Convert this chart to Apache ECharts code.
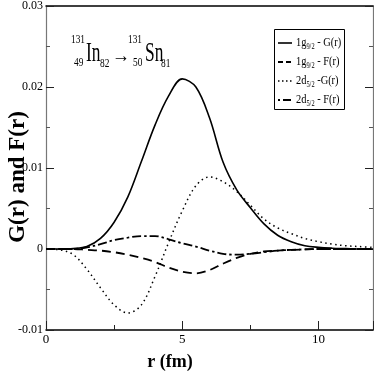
<!DOCTYPE html>
<html><head><meta charset="utf-8">
<script src="https://cdn.jsdelivr.net/npm/echarts@6/dist/echarts.min.js"></script>
<style>html,body{margin:0;padding:0;background:#fff}#c{width:374px;height:374px}</style>
</head><body><div id="c"></div>
<script>
// radial grid (fm)
var rValues = [0, 0.5, 1, 1.5, 2, 2.5, 3, 3.5, 4, 4.5, 5, 5.5, 6, 6.5, 7, 7.5, 8, 8.5, 9, 9.5, 10, 10.5, 11, 11.5, 12];
// 1g9/2 - G(r)
var g1g = [0, 0, 0.00005, 0.0003, 0.0013, 0.0033, 0.0064, 0.0108, 0.0153, 0.0189, 0.021, 0.02, 0.0162, 0.0107, 0.0073, 0.0051, 0.0031, 0.0017, 0.0009, 0.0004, 0.0002, 0.0001, 0.00005, 0, 0];
// 1g9/2 - F(r)
var f1g = [0, 0, 0, -0.0001, -0.0002, -0.0004, -0.0007, -0.0011, -0.0016, -0.0023, -0.0028, -0.003, -0.0026, -0.0018, -0.0011, -0.0006, -0.0003, -0.0002, -0.0001, -0.00005, 0, 0, 0, 0, 0];
// 2d5/2 - G(r)
var g2d = [0, -0.0001, -0.0007, -0.0025, -0.0048, -0.0069, -0.0079, -0.0069, -0.0034, 0.0008, 0.0047, 0.0078, 0.0089, 0.0083, 0.0071, 0.0054, 0.0037, 0.0026, 0.0019, 0.0013, 0.0009, 0.0006, 0.0004, 0.0003, 0.0002];
// 2d5/2 - F(r)
var f2d = [0, 0, 0, 0.0002, 0.0006, 0.0011, 0.0014, 0.0016, 0.0016, 0.0012, 0.0007, 0.0003, -0.0002, -0.0006, -0.0007, -0.0006, -0.0004, -0.0002, -0.0001, -0.00005, 0, 0, 0, 0, 0];
var yTicks = [-0.01, 0, 0.01, 0.02, 0.03];
var xTicks = [0, 5, 10];

function pairs(v){ return rValues.map(function(r,i){ return [r, v[i]]; }); }
var FONT = 'Liberation Serif';
var chart = echarts.init(document.getElementById('c'));

function yLab(v){
  for (var i = 0; i < yTicks.length; i++) {
    if (Math.abs(v - yTicks[i]) < 1e-9) return Math.abs(yTicks[i]) < 1e-12 ? '0' : String(yTicks[i]);
  }
  return '';
}
function legRich(){
  return {
    n: {fontFamily: FONT, fontSize: 13, color: '#000', lineHeight: 16, verticalAlign: 'middle'},
    s: {fontFamily: FONT, fontSize: 8, color: '#000', lineHeight: 16, verticalAlign: 'bottom'}
  };
}
function t(str, x, y, size, sx){
  return {type: 'text', x: x, y: y, scaleX: sx, style: {text: str, font: size + 'px "Liberation Serif"', fill: '#000', align: 'left', verticalAlign: 'top'}};
}

var axisCommonY = {
  type: 'value', min: -0.01, max: 0.03, interval: 0.01,
  splitLine: {show: false},
  minorTick: {show: true, splitNumber: 2, length: 4, lineStyle: {color: '#555'}},
  axisTick: {show: true, inside: true, length: 8, lineStyle: {color: '#222'}},
  axisLine: {show: true, onZero: false, lineStyle: {color: '#777', width: 1.2}}
};

chart.setOption({
  animation: false,
  grid: {left: 46, top: 6, right: 1, bottom: 44, containLabel: false, outerBoundsMode: 'none'},
  xAxis: [{
    type: 'value', min: 0, max: 12, interval: 5, position: 'bottom',
    axisLabel: {fontFamily: FONT, fontSize: 13, color: '#000', margin: 3,
      formatter: function(v){ return xTicks.indexOf(v) >= 0 ? String(v) : ''; }},
    splitLine: {show: false},
    axisTick: {show: true, inside: true, length: 9, lineStyle: {color: '#222'}},
    minorTick: {show: true, splitNumber: 2, length: 5, lineStyle: {color: '#222'}},
    axisLine: {show: true, onZero: false, lineStyle: {color: '#000', width: 1.5}}
  }, {
    type: 'value', min: 0, max: 12, interval: 5, position: 'top',
    axisLabel: {show: false}, axisTick: {show: false}, splitLine: {show: false},
    axisLine: {show: true, onZero: false, lineStyle: {color: '#000', width: 1.5}}
  }],
  yAxis: [Object.assign({}, axisCommonY, {
    position: 'left',
    axisLabel: {fontFamily: FONT, fontSize: 12, color: '#000', margin: 3, formatter: yLab}
  }), Object.assign({}, axisCommonY, {
    position: 'right', axisLabel: {show: false}
  })],
  series: [
    {name: '1g9/2 - G(r)', type: 'line', data: pairs(g1g), smooth: 0.35, showSymbol: false,
     lineStyle: {color: '#000', width: 1.6, type: 'solid'}},
    {name: '1g9/2 - F(r)', type: 'line', data: pairs(f1g), smooth: 0.35, showSymbol: false,
     lineStyle: {color: '#000', width: 1.8, type: [9, 5]}},
    {name: '2d5/2 -G(r)', type: 'line', data: pairs(g2d), smooth: 0.35, showSymbol: false,
     lineStyle: {color: '#000', width: 1.5, type: [1.5, 3.5]}},
    {name: '2d5/2 - F(r)', type: 'line', data: pairs(f2d), smooth: 0.35, showSymbol: false,
     lineStyle: {color: '#000', width: 1.8, type: [9, 3, 2.5, 3]}}
  ],
  graphic: [
    // axis titles
    {type: 'text', x: 18, y: 177, rotation: Math.PI / 2,
     style: {text: 'G(r) and F(r)', font: 'bold 23px "Liberation Serif"', fill: '#000', align: 'center', verticalAlign: 'middle'}},
    {type: 'text', x: 170, y: 362,
     style: {text: 'r (fm)', font: 'bold 18px "Liberation Serif"', fill: '#000', align: 'center', verticalAlign: 'middle'}},
    // reaction label
    t('131', 71, 33, 13, 0.72),
    t('49', 74, 56, 13, 0.72),
    t('In', 86, 40, 28, 0.62),
    t('82', 100, 57, 13, 0.72),
    {type: 'text', x: 112, y: 47, scaleX: 0.9, style: {text: '\u2192', font: '20px "Liberation Serif"', fill: '#000', align: 'left', verticalAlign: 'top'}},
    t('131', 128, 33, 13, 0.72),
    t('50', 133, 56, 13, 0.72),
    t('Sn', 145, 40, 28, 0.62),
    t('81', 161, 57, 13, 0.72),
    // legend box
    {type: 'rect', shape: {x: 274.5, y: 29.5, width: 70, height: 80}, style: {fill: '#fff', stroke: '#000', lineWidth: 1}},
    {type: 'line', shape: {x1: 278, y1: 43, x2: 292, y2: 43}, style: {stroke: '#000', lineWidth: 1.6}},
    {type: 'line', shape: {x1: 278, y1: 62, x2: 292, y2: 62}, style: {stroke: '#000', lineWidth: 1.8, lineDash: [5, 3]}},
    {type: 'line', shape: {x1: 278, y1: 81, x2: 292, y2: 81}, style: {stroke: '#000', lineWidth: 1.3, lineDash: [1.5, 2.5]}},
    {type: 'line', shape: {x1: 278, y1: 100, x2: 292, y2: 100}, style: {stroke: '#000', lineWidth: 1.8, lineDash: [2, 3, 8, 3]}},
    {type: 'text', x: 296, y: 35, scaleX: 0.8, style: {text: '{n|1g}{s|9/2}{n| - G(r)}', rich: legRich()}},
    {type: 'text', x: 296, y: 54, scaleX: 0.8, style: {text: '{n|1g}{s|9/2}{n| - F(r)}', rich: legRich()}},
    {type: 'text', x: 296, y: 73, scaleX: 0.8, style: {text: '{n|2d}{s|5/2}{n| -G(r)}', rich: legRich()}},
    {type: 'text', x: 296, y: 92, scaleX: 0.8, style: {text: '{n|2d}{s|5/2}{n| - F(r)}', rich: legRich()}}
  ]
});
</script></body></html>
